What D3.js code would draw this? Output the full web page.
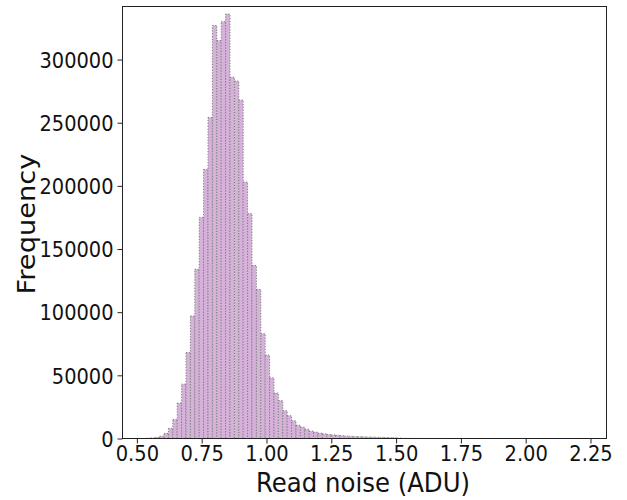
<!DOCTYPE html>
<html>
<head>
<meta charset="utf-8">
<script src="https://cdn.jsdelivr.net/npm/d3@7"></script>
<style>
  html, body { margin: 0; padding: 0; background: #fff; }
  svg { display: block; font-family: "DejaVu Sans", sans-serif; }
</style>
</head>
<body>
<svg id="chart" width="627" height="500"></svg>
<script>
// ---- data ----
const binStart = 0.5368;      // left edge of first bin (ADU)
const binWidth = 0.01697;     // bin width (ADU), 100 bins
const counts = [
  200, 400, 900, 1800, 4000, 8000, 15000, 28000, 43000, 68000,
  97000, 134000, 175000, 213000, 254000, 327000, 315000, 330000, 336000, 286000,
  283000, 268000, 203000, 178000, 137000, 118000, 83000, 66000, 48000, 36000,
  30000, 22000, 18000, 14000, 10500, 9000, 7300, 5800, 5000, 4200,
  3700, 3200, 2800, 2500, 2200, 2000, 1800, 1600, 1450, 1300,
  1200, 1100, 1000, 900, 800, 700, 600, 300, 150, 110,
  90, 70, 55, 45, 40, 32, 28, 24, 20, 17,
  15, 13, 11, 10, 9, 8, 7, 6, 5, 5,
  4, 4, 3, 3, 3, 2, 2, 2, 2, 1,
  1, 1, 1, 1, 1, 1, 1, 1, 1, 1
];
const xTicks = [0.50, 0.75, 1.00, 1.25, 1.50, 1.75, 2.00, 2.25];
const yTicks = [0, 50000, 100000, 150000, 200000, 250000, 300000];
const xLabel = "Read noise (ADU)";
const yLabel = "Frequency";

// ---- layout ----
const L = 122.5, R = 606.5, T = 6.5, B = 438.5;
const stretch = 1.11;

const svg = d3.select("#chart");
svg.append("rect").attr("width", 627).attr("height", 500).attr("fill", "#fff");

const x = d3.scaleLinear().domain([0.4445, 2.3118]).range([L, R]);
const y = d3.scaleLinear().domain([0, 342000]).range([B, T]);

const bins = counts.map((c, i) => ({ x0: binStart + i * binWidth, x1: binStart + (i + 1) * binWidth, c }));

svg.append("g").selectAll("rect").data(bins).join("rect")
  .attr("x", d => x(d.x0))
  .attr("width", d => x(d.x1) - x(d.x0))
  .attr("y", d => y(d.c))
  .attr("height", d => B - y(d.c))
  .attr("fill", "#d6b2da")
  .attr("stroke", (d, i) => i > 44 ? "#8a9a84" : "#7c7c7c")
  .attr("stroke-width", 1)
  .attr("stroke-dasharray", "1.2,1.6");

// frame
svg.append("rect").attr("x", L).attr("y", T).attr("width", R - L).attr("height", B - T)
  .attr("fill", "none").attr("stroke", "#222").attr("stroke-width", 1);

// x axis
const gx = svg.append("g").attr("transform", `translate(0,${B})`)
  .call(d3.axisBottom(x).tickValues(xTicks).tickFormat(d3.format(".2f")).tickSize(5).tickSizeOuter(0));
gx.select(".domain").remove();
gx.selectAll(".tick line").attr("stroke", "#222");
gx.selectAll(".tick text")
  .attr("y", 20.3).attr("dy", null)
  .attr("transform", `scale(1,${stretch})`)
  .attr("font-size", 19.5).attr("font-family", "DejaVu Sans").attr("fill", "#111");

// y axis
const gy = svg.append("g").attr("transform", `translate(${L},0)`)
  .call(d3.axisLeft(y).tickValues(yTicks).tickFormat(d3.format("d")).tickSize(5).tickPadding(4).tickSizeOuter(0));
gy.select(".domain").remove();
gy.selectAll(".tick line").attr("stroke", "#222");
gy.selectAll(".tick text")
  .attr("dy", "0.36em")
  .attr("transform", `scale(1,${stretch})`)
  .attr("font-size", 19.4).attr("font-family", "DejaVu Sans").attr("fill", "#111");

// axis labels
svg.append("text")
  .attr("transform", `translate(363,492) scale(1,${stretch})`)
  .attr("text-anchor", "middle").attr("font-size", 24.4).attr("fill", "#111")
  .text(xLabel);
svg.append("text")
  .attr("transform", `translate(35,224) scale(1,${stretch}) rotate(-90)`)
  .attr("text-anchor", "middle").attr("font-size", 24.6).attr("fill", "#111")
  .text(yLabel);
</script>
</body>
</html>
